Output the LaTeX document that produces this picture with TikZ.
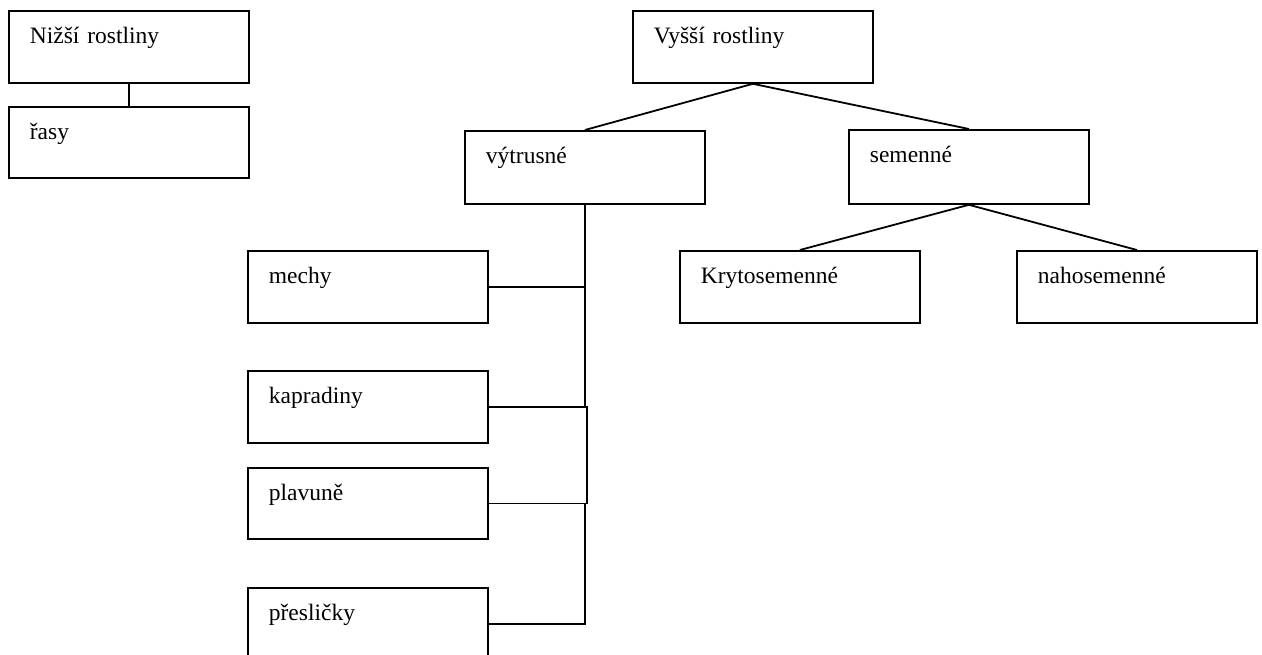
\documentclass[tikz,border=0pt]{standalone}
\usepackage{fontspec}
\setmainfont{Liberation Serif}
\usetikzlibrary{calc}

\tikzset{
  box/.style={draw, line width=1.8pt, anchor=north west, inner xsep=21pt, inner ysep=0pt,
    text width=198pt, align=left, text height=33pt, text depth=#1},
  box/.default=39pt,
  link/.style={line width=1.8pt}
}

\begin{document}
\begin{tikzpicture}[x=1pt,y=-1pt,font=\fontsize{23.5}{28}\selectfont]
    \useasboundingbox (0,0) rectangle (1262,655);
    %Nizsi
    \node[box] (nizsi) at (8,10) {Nižší rostliny};
    \node[box=38pt] (rasy) at (8,106) {řasy};
    \draw[link] (nizsi.south) -- (rasy.north);

    %Vyssi
    \node[box] (vyssi) at (632,10) {Vyšší rostliny};
    \node[box=40pt] (vytrusne) at (464,130) {výtrusné};
    \node[box=41pt] (semenne) at (848,129) {semenné};
    \draw[link] (vyssi.south) -- (vytrusne.north);
    \draw[link] (vyssi.south) -- (semenne.north);

    %semenne
    \node[box] (kryto) at (679,250) {Krytosemenné};
    \node[box] (naho) at (1016,250) {nahosemenné};
    \draw[link] (semenne.south) -- (kryto.north);
    \draw[link] (semenne.south) -- (naho.north);

    %vytrusne
    \node[box] (mechy) at (247,250) {mechy};
    \node[box] (kapradiny) at (247,370) {kapradiny};
    \node[box=38pt] (plavune) at (247,467) {plavuně};
    \node[box] (preslicky) at (247,587) {přesličky};
    \draw[link] (vytrusne.south) -- (vytrusne.south |- kapradiny.east);
    \draw[link] (mechy.east) -- (mechy.east -| vytrusne.south);
    \draw[link] (kapradiny.east) -| ($(vytrusne.south |- plavune.east)+(2,0)$) -- (plavune.east);
    \draw[link] (vytrusne.south |- plavune.east) |- (preslicky.east);
\end{tikzpicture}
\end{document}
